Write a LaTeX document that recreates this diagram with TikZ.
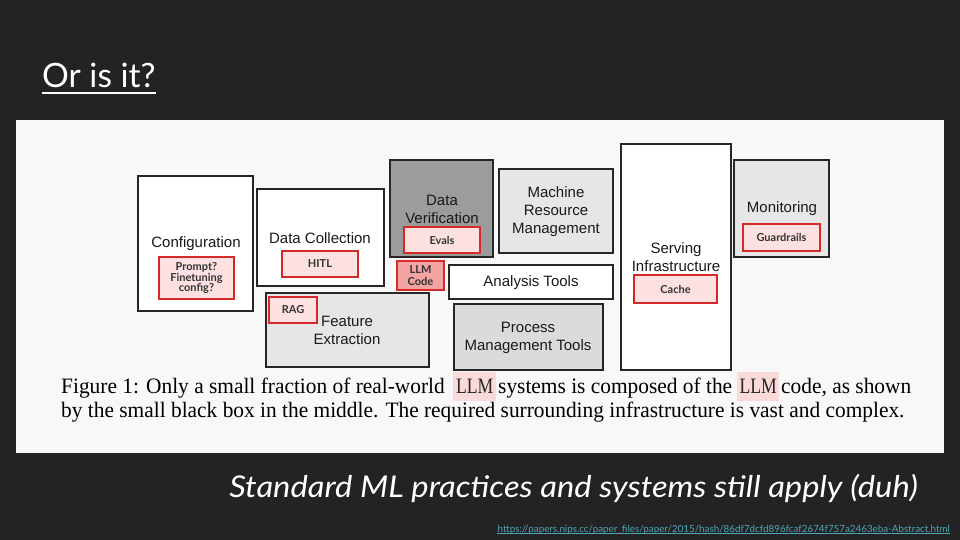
\documentclass[tikz,border=0pt]{standalone}
\usepackage{fontspec}
\usepackage{graphicx}
\setmainfont{Liberation Sans}
\newfontfamily\capfont{Liberation Serif}
\newfontfamily\ralefont{Lato}
\definecolor{bgdark}{HTML}{232323}
\definecolor{panel}{HTML}{F8F8F8}
\definecolor{redline}{HTML}{D42A2A}
\definecolor{redfill}{HTML}{FDE1E1}
\definecolor{llmfill}{HTML}{F4A3A3}
\definecolor{greylight}{HTML}{E6E6E6}
\definecolor{greymid}{HTML}{DBDBDB}
\definecolor{greydark}{HTML}{9C9C9C}
\definecolor{hilite}{HTML}{FBDADA}
\definecolor{linkcol}{HTML}{4FA6B8}
\newcommand{\capsq}[1]{\scalebox{0.972}[1]{#1}}
\tikzset{
  sysbox/.style={draw=black!85, line width=1.3pt, anchor=north west, inner sep=0pt, outer sep=0pt},
  redbox/.style={draw=redline, fill=redfill, line width=2pt, anchor=north west, inner sep=0pt, outer sep=0pt},
  boxlabel/.style={font=\fontsize{15}{18}\selectfont, align=center, inner sep=0pt, text=black!90},
  redlabel/.style={font=\ralefont\bfseries\fontsize{11}{11.5}\selectfont, align=center, inner sep=0pt, text=black!80},
  captext/.style={font=\capfont\fontsize{22}{24}\selectfont, anchor=base west, inner sep=0pt, text=black},
  llmword/.style={font=\capfont\fontsize{22}{24}\selectfont, fill=hilite, inner sep=0pt, anchor=north west, text=black!85}
}
\begin{document}
\begin{tikzpicture}[x=1pt, y=-1pt]
\useasboundingbox (0,0) rectangle (960,540);
\fill[bgdark] (0,0) rectangle (960,540);
\fill[panel] (16,120) rectangle (944,453);

% title
\node[font=\ralefont\fontsize{33.5}{36}\selectfont, text=white, anchor=base west, inner sep=0pt] (title) at (42,88) {Or is it?};
\draw[white, line width=2pt] ([yshift=-5pt]title.base west) -- ([yshift=-5pt]title.base east);

% boxes
\node[sysbox, fill=white, minimum width=115pt, minimum height=135pt] (conf) at (138,176) {};
\node[boxlabel] (confl) at (196,244) {Configuration};
\node[redbox, minimum width=75pt, minimum height=42pt] (confr) at (159,257) {};
\node[redlabel, font=\ralefont\bfseries\fontsize{11}{10.5}\selectfont] (confrl) at (196.5,278) {Prompt?\\Finetuning\\config?};

\node[sysbox, fill=white, minimum width=127pt, minimum height=97pt] (dc) at (257,189) {};
\node[boxlabel] (dcl) at (320,238) {Data Collection};
\node[redbox, minimum width=76pt, minimum height=26pt] (hitl) at (282,251) {};
\node[redlabel] (hitll) at (320,264) {HITL};

\node[sysbox, fill=greydark, minimum width=103pt, minimum height=97pt] (dv) at (390,160) {};
\node[boxlabel] (dvl) at (442,209) {Data\\Verification};
\node[redbox, minimum width=76pt, minimum height=26pt] (evals) at (404,227) {};
\node[redlabel] (evalsl) at (442,240) {Evals};

\node[redbox, fill=llmfill, minimum width=47pt, minimum height=29pt] (llm) at (397,261) {};
\node[redlabel] (llml) at (420.5,275.5) {LLM\\Code};

\node[sysbox, fill=greylight, minimum width=163pt, minimum height=74pt] (fe) at (266,293) {};
\node[boxlabel] (fel) at (347,330.5) {Feature\\Extraction};
\node[redbox, minimum width=48pt, minimum height=26pt] (rag) at (269,297) {};
\node[redlabel] (ragl) at (293,310) {RAG};

\node[sysbox, fill=greylight, minimum width=114pt, minimum height=84pt] (mrm) at (499,169) {};
\node[boxlabel] (mrml) at (556,212) {Machine\\Resource\\Management};

\node[sysbox, fill=white, minimum width=164pt, minimum height=34pt] (at) at (449,265) {};
\node[boxlabel] (atl) at (531,283) {Analysis Tools};

\node[sysbox, fill=greymid, minimum width=149pt, minimum height=66pt] (pm) at (454,304) {};
\node[boxlabel] (pml) at (528,338) {Process\\Management Tools};

\node[sysbox, fill=white, minimum width=110pt, minimum height=226pt] (si) at (621,144) {};
\node[boxlabel] (sil) at (676,257) {Serving\\Infrastructure};
\node[redbox, minimum width=83pt, minimum height=28pt] (cache) at (634,275) {};
\node[redlabel] (cachel) at (675.5,289) {Cache};

\node[sysbox, fill=greylight, minimum width=95pt, minimum height=97pt] (mon) at (734,160) {};
\node[boxlabel] (monl) at (782,209) {Monitoring};
\node[redbox, minimum width=77pt, minimum height=27pt] (guard) at (743,224) {};
\node[redlabel] (guardl) at (781.5,237.5) {Guardrails};

% caption
\node[captext] (cap1a) at (61,393) {\capsq{Figure 1: Only a small fraction of real-world}};
\node[llmword, minimum width=43pt, minimum height=29pt] (llm1) at (453,372) {\scalebox{0.8}[1]{LLM}};
\node[captext] (cap1b) at (498,393) {\capsq{systems is composed of the}};
\node[llmword, minimum width=42pt, minimum height=29pt] (llm2) at (737,372) {\scalebox{0.8}[1]{LLM}};
\node[captext] (cap1c) at (781,393) {\capsq{code, as shown}};
\node[captext] (cap2) at (61,417) {\capsq{by the small black box in the middle. The required surrounding infrastructure is vast and complex.}};

% subtitle
\node[font=\ralefont\itshape\fontsize{30}{32}\selectfont, text=white, anchor=base east, inner sep=0pt] (sub) at (918,497) {\scalebox{1.09}[1]{Standard ML practices and systems still apply (duh)}};

% link
\node[font=\ralefont\fontsize{9.8}{10}\selectfont, text=linkcol, anchor=base east, inner sep=0pt] (link) at (950,532) {https://papers.nips.cc/paper\_files/paper/2015/hash/86df7dcfd896fcaf2674f757a2463eba-Abstract.html};
\draw[linkcol, line width=0.6pt] ([yshift=-1.5pt]link.base west) -- ([yshift=-1.5pt]link.base east);
\end{tikzpicture}
\end{document}
